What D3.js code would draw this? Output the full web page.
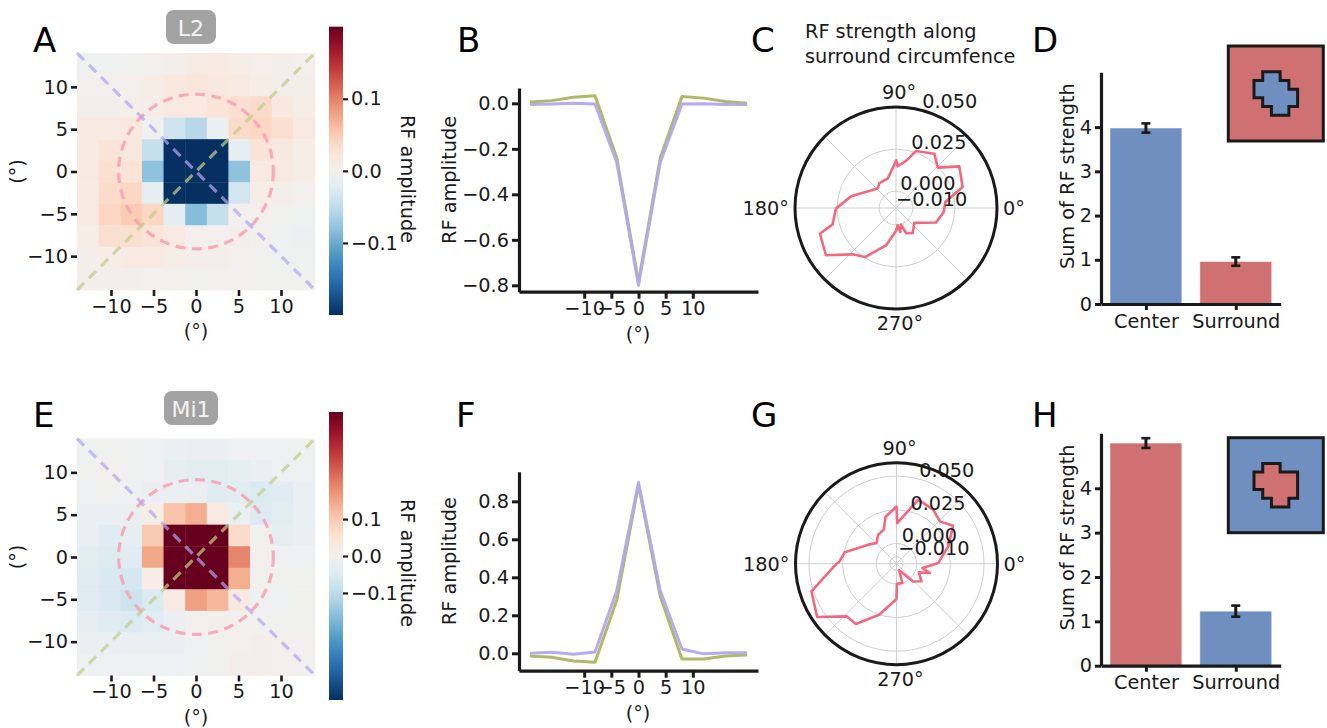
<!DOCTYPE html>
<html><head><meta charset="utf-8">
<script src="https://cdn.jsdelivr.net/npm/d3@7"></script>
<style>
body{margin:0;background:#fff}
svg{display:block}
text{font-family:"DejaVu Sans",sans-serif;fill:#1a1a1a}
</style>
</head><body>
<svg id="chart" width="1327" height="728"></svg>
<script>
// ---------------- DATA ----------------
const heatTicks = [-10, -5, 0, 5, 10];
const l2Heat = [
 [-0.005,-0.005,-0.003,0.003,0.005,0.012,0.015,0.01,0.006,0.005,0.004],
 [0.003,0.003,0.004,0.01,0.02,0.022,0.02,0.015,0.01,0.008,0.005],
 [0.005,0.005,0.006,0.01,0.015,0.018,0.025,0.03,0.035,0.02,0.01],
 [0.015,0.015,0.02,-0.005,-0.04,-0.055,-0.01,0.035,0.04,0.03,0.015],
 [0.015,0.025,0.02,-0.045,-0.26,-0.3,-0.26,-0.015,0.025,0.02,0.01],
 [0.015,0.03,0.025,-0.08,-0.3,-0.8,-0.3,-0.08,0.015,0.015,0.01],
 [0.015,0.035,0.04,-0.015,-0.26,-0.3,-0.26,-0.035,0.01,0.005,0.0],
 [0.015,0.04,0.05,0.04,-0.02,-0.085,-0.045,0.0,0.0,-0.003,-0.005],
 [0.01,0.03,0.03,0.025,0.015,0.0,0.0,0.005,-0.002,-0.005,-0.008],
 [0.008,0.01,0.015,0.015,0.01,0.005,0.005,0.0,-0.003,-0.005,-0.005],
 [0.005,0.005,0.005,0.003,0.003,-0.003,0.0,0.0,-0.003,-0.003,-0.003]
];
const mi1Heat = [
 [-0.01,-0.004,-0.01,-0.013,-0.016,-0.016,-0.016,-0.013,-0.013,-0.013,-0.01],
 [-0.006,0.005,-0.01,-0.013,-0.033,-0.04,-0.04,-0.033,-0.026,-0.013,-0.013],
 [-0.013,-0.006,-0.013,-0.02,-0.02,-0.02,-0.045,-0.04,-0.052,-0.045,-0.026],
 [-0.026,-0.026,-0.02,0.02,0.11,0.14,0.03,-0.026,-0.052,-0.04,-0.026],
 [-0.026,-0.045,-0.033,0.1,0.45,0.5,0.45,0.07,-0.006,-0.033,-0.02],
 [-0.04,-0.052,-0.045,0.15,0.5,0.9,0.5,0.19,0.0,-0.013,-0.013],
 [-0.045,-0.058,-0.065,0.02,0.45,0.5,0.45,0.14,-0.006,-0.006,-0.006],
 [-0.045,-0.058,-0.078,-0.052,0.03,0.16,0.13,0.035,-0.013,-0.013,-0.006],
 [-0.033,-0.045,-0.052,-0.04,-0.02,0.0,0.01,0.005,-0.006,-0.006,-0.006],
 [-0.02,-0.026,-0.026,-0.026,-0.02,-0.013,-0.006,0.005,0.01,0.005,0.0],
 [-0.013,-0.013,-0.013,-0.013,-0.013,-0.01,-0.006,0.01,0.01,0.005,-0.006]
];
const l2ColorTicks = [-0.1, 0.0, 0.1];
const mi1ColorTicks = [-0.1, 0.0, 0.1];

const profileX = [-20,-16,-12,-8,-4,0,4,8,12,16,20];
const profileTicksX = [-10,-5,0,5,10];
const l2ProfileGreen  = [0.006,0.012,0.027,0.033,-0.24,-0.785,-0.24,0.03,0.023,0.008,0.0];
const l2ProfilePurple = [-0.005,-0.003,0.0,-0.003,-0.26,-0.80,-0.26,-0.003,-0.002,-0.005,-0.005];
const l2ProfileTicksY = [-0.8,-0.6,-0.4,-0.2,0.0];
const mi1ProfileGreen  = [-0.014,-0.021,-0.04,-0.047,0.28,0.886,0.30,-0.03,-0.03,-0.014,-0.009];
const mi1ProfilePurple = [0.0,0.005,-0.005,0.007,0.33,0.90,0.33,0.023,-0.003,0.003,0.003];
const mi1ProfileTicksY = [0.0,0.2,0.4,0.6,0.8];

const polarRTicks = [-0.010, 0.000, 0.025, 0.050];
const polarAngleTicks = [0, 90, 180, 270];
const l2PolarAngles = [7,17.5,33.3,44,54.8,70.7,77.4,87.7,89.6,105.9,123.7,133.5,165.5,180.6,194.5,198.7,214,226.9,237.7,255,270,275.5,280,287,292,304,321,340,355];
const l2PolarValues = [0.0195,0.0315,0.035,0.0245,0.0295,0.0259,0.019,0.0148,0.0183,0.0081,0.0078,0.0059,0.0176,0.0257,0.0289,0.0377,0.0402,0.0277,0.0245,0.013,0.0037,0.0003,0.0045,0.0003,0.0062,0.0078,0.004,0.0153,0.0184];
const mi1PolarAngles = [0.9,18.5,33.8,44.3,55.8,71.3,89,90,103.3,110.4,122.3,134,146,167.6,178.7,180,198,213.9,226.5,236,251.2,270,271,287,292,313,324.8,338.8,344.4,350.5];
const mi1PolarValues = [0.016,0.0255,0.0356,0.030,0.0335,0.0352,0.0152,0.0275,0.0206,0.012,0.0105,0.0064,0.0103,0.0243,0.0278,0.0295,0.0514,0.056,0.0389,0.039,0.025,0.0112,0.0,0.0,-0.0097,0.003,0.0077,0.0028,0.0107,0.0045];

const barCategories = ["Center","Surround"];
const barTicks = [0,1,2,3,4];
const l2BarMeans = [3.98, 0.96];
const l2BarErr   = [0.105, 0.095];
const mi1BarMeans = [5.02, 1.23];
const mi1BarErr   = [0.11, 0.125];

// inset outlines (grid units)
const l2InsetShape  = [[1,0],[3,0],[3,1],[4,1],[4,2],[5,2],[5,4],[4,4],[4,5],[2,5],[2,4],[1,4],[1,3],[0,3],[0,1],[1,1]];
const mi1InsetShape = [[1,0],[3,0],[3,1],[5,1],[5,4],[4,4],[4,5],[2,5],[2,4],[1,4],[1,3],[0,3],[0,1],[1,1]];

// ---------------- STYLE ----------------
const FS = 19.3;
const INK = "#1a1a1a";
const GREEN = "#b0b968";
const PURPLE = "#b3a6ef";
const BLUE = "#6f8fc1";
const RED = "#cf7073";
const svg = d3.select("#chart");
const fmtMinus = d => (d < 0 ? "\u2212" : "") + Math.abs(d);

function styleAxis(g, width) {
  g.selectAll(".tick line").attr("stroke", INK).attr("stroke-width", width || 2.6);
  g.selectAll(".tick text").attr("font-size", FS).attr("fill", INK).style("font-family", '"DejaVu Sans",sans-serif');
}

// ---------------- HEATMAPS ----------------
function heatmap(data, top, vmax, cbTicks, cbTop, cbBottom, cbLabelY, badge) {
  const g = svg.append("g");
  const ext = 14, n = data.length;
  const x = d3.scaleLinear().domain([-ext, ext]).range([77, 315]);
  const y = d3.scaleLinear().domain([-ext, ext]).range([top + 237, top]);
  const edges = d3.range(n + 1).map(i => -ext + i * 2 * ext / n);
  const col = v => d3.interpolateRdBu(1 - Math.max(0, Math.min(1, (v + vmax) / (2 * vmax))));
  const cells = [];
  data.forEach((row, r) => row.forEach((v, c) => cells.push({r, c, v})));
  g.selectAll("rect.cell").data(cells).join("rect")
    .attr("x", d => x(edges[d.c]))
    .attr("y", d => y(edges[n - d.r]))
    .attr("width", d => x(edges[d.c + 1]) - x(edges[d.c]) + 0.4)
    .attr("height", d => y(edges[n - d.r - 1]) - y(edges[n - d.r]) + 0.4)
    .attr("fill", d => col(d.v));
  // overlays
  g.append("circle").attr("cx", x(0)).attr("cy", y(0)).attr("r", x(9.1) - x(0))
    .attr("fill", "none").attr("stroke", "#f7a3b5").attr("stroke-width", 3.2)
    .attr("stroke-dasharray", "10,6.5").attr("opacity", 0.9);
  g.append("line").attr("x1", x(-ext)).attr("y1", y(ext)).attr("x2", x(ext)).attr("y2", y(-ext))
    .attr("stroke", PURPLE).attr("stroke-width", 3.2).attr("stroke-dasharray", "10,7").attr("opacity", 0.72);
  g.append("line").attr("x1", x(-ext)).attr("y1", y(-ext)).attr("x2", x(ext)).attr("y2", y(ext))
    .attr("stroke", "#c3cd88").attr("stroke-width", 3.2).attr("stroke-dasharray", "10,7").attr("opacity", 0.72);
  // axes
  const ax = g.append("g").attr("transform", `translate(0,${top + 237})`)
    .call(d3.axisBottom(x).tickValues(heatTicks).tickFormat(fmtMinus).tickSize(6).tickPadding(3));
  ax.select(".domain").remove(); styleAxis(ax);
  const ay = g.append("g").attr("transform", "translate(77,0)")
    .call(d3.axisLeft(y).tickValues(heatTicks).tickFormat(fmtMinus).tickSize(6).tickPadding(3));
  ay.select(".domain").remove(); styleAxis(ay);
  g.append("text").attr("x", x(0)).attr("y", top + 285).attr("text-anchor", "middle").attr("font-size", FS).text("(°)");
  g.append("text").attr("transform", `translate(24,${y(0)}) rotate(-90)`).attr("text-anchor", "middle").attr("font-size", FS).text("(°)");
  // colorbar
  const gid = "grad" + Math.round(top);
  const grad = svg.append("defs").append("linearGradient").attr("id", gid)
    .attr("x1", 0).attr("y1", 1).attr("x2", 0).attr("y2", 0);
  d3.range(0, 1.0001, 0.05).forEach(t => grad.append("stop").attr("offset", t).attr("stop-color", d3.interpolateRdBu(1 - t)));
  g.append("rect").attr("x", 329).attr("y", cbTop).attr("width", 14).attr("height", cbBottom - cbTop).attr("fill", `url(#${gid})`);
  const cy = d3.scaleLinear().domain([-vmax, vmax]).range([cbBottom, cbTop]);
  const ac = g.append("g").attr("transform", "translate(343,0)")
    .call(d3.axisRight(cy).tickValues(cbTicks).tickFormat(d => d3.format(".1f")(d)).tickSize(5).tickPadding(3));
  ac.select(".domain").remove(); styleAxis(ac, 2.2);
  g.append("text").attr("transform", `translate(401,${cbLabelY}) rotate(90)`).attr("text-anchor", "middle")
    .attr("font-size", FS).text("RF amplitude");
  // badge
  g.append("rect").attr("x", badge.x).attr("y", badge.y).attr("width", badge.w).attr("height", 34).attr("rx", 8).attr("fill", "#a3a3a3");
  g.append("text").attr("x", badge.x + badge.w / 2).attr("y", badge.y + 26).attr("text-anchor", "middle")
    .attr("font-size", 22).style("fill", "#f4f4f4").text(badge.label);
}
heatmap(l2Heat, 53, 0.2, l2ColorTicks, 26.7, 315, 179, {x: 166, y: 10, w: 50, label: "L2"});
heatmap(mi1Heat, 438.5, 0.39, mi1ColorTicks, 412, 700, 563, {x: 164, y: 391, w: 54, label: "Mi1"});

// ---------------- PROFILES ----------------
function profile(top, bottom, yDom, yTicks, green, purple) {
  const g = svg.append("g");
  const x = d3.scaleLinear().domain([-22, 22]).range([519, 758]);
  const y = d3.scaleLinear().domain(yDom).range([bottom, top]);
  const ax = g.append("g").attr("transform", `translate(0,${bottom})`)
    .call(d3.axisBottom(x).tickValues(profileTicksX).tickFormat(fmtMinus).tickSize(7).tickSizeOuter(0).tickPadding(3));
  const ay = g.append("g").attr("transform", "translate(519,0)")
    .call(d3.axisLeft(y).tickValues(yTicks).tickFormat(d => d3.format(".1f")(d)).tickSize(7).tickSizeOuter(0).tickPadding(3));
  [ax, ay].forEach(a => { a.select(".domain").attr("stroke", INK).attr("stroke-width", 3.2); styleAxis(a, 3); });
  const line = d3.line().x((d, i) => x(profileX[i])).y(d => y(d));
  g.append("path").attr("d", line(green)).attr("fill", "none").attr("stroke", GREEN).attr("stroke-width", 3).attr("stroke-linejoin", "round");
  g.append("path").attr("d", line(purple)).attr("fill", "none").attr("stroke", PURPLE).attr("stroke-width", 3).attr("stroke-linejoin", "round").attr("opacity", 0.95);
  g.append("text").attr("x", 638).attr("y", bottom + 49).attr("text-anchor", "middle").attr("font-size", FS).text("(°)");
  g.append("text").attr("transform", `translate(456,${(top + bottom) / 2 - 10}) rotate(-90)`).attr("text-anchor", "middle").attr("font-size", FS).text("RF amplitude");
}
profile(88, 291.7, [-0.828, 0.0675], l2ProfileTicksY, l2ProfileGreen, l2ProfilePurple);
profile(471.7, 670.7, [-0.0916, 0.956], mi1ProfileTicksY, mi1ProfileGreen, mi1ProfilePurple);

// ---------------- POLAR ----------------
function polar(cx, cy, R, rDom, angles, values) {
  const g = svg.append("g").attr("transform", `translate(${cx},${cy})`);
  const r = d3.scaleLinear().domain(rDom).range([0, R]);
  g.selectAll("circle.grid").data(polarRTicks.filter(t => r(t) > 0.5 && r(t) < R - 0.5)).join("circle")
    .attr("r", d => r(d)).attr("fill", "none").attr("stroke", "#cfcfcf").attr("stroke-width", 1);
  g.selectAll("line.spoke").data(d3.range(0, 360, 45)).join("line")
    .attr("x1", 0).attr("y1", 0)
    .attr("x2", d => R * Math.cos(d * Math.PI / 180)).attr("y2", d => -R * Math.sin(d * Math.PI / 180))
    .attr("stroke", "#cfcfcf").attr("stroke-width", 1);
  const pts = angles.map((a, i) => ({a, v: values[i]}));
  const lr = d3.lineRadial().angle(d => (90 - d.a) * Math.PI / 180).radius(d => r(d.v)).curve(d3.curveLinearClosed);
  g.append("path").attr("d", lr(pts)).attr("fill", "none").attr("stroke", "#f2687f").attr("stroke-width", 2.6).attr("stroke-linejoin", "round");
  g.append("circle").attr("r", R).attr("fill", "none").attr("stroke", INK).attr("stroke-width", 3);
  const la = 75 * Math.PI / 180;
  g.selectAll("text.rl").data(polarRTicks).join("text")
    .attr("x", d => r(d) * Math.cos(la)).attr("y", d => -r(d) * Math.sin(la) - 2)
    .attr("font-size", FS).text(d => d3.format(".3f")(d));
  const pad = 6;
  polarAngleTicks.forEach(a => {
    const t = g.append("text").attr("font-size", FS).text(a + "°");
    if (a === 0) t.attr("x", R + pad).attr("y", 7).attr("text-anchor", "start");
    if (a === 180) t.attr("x", -R - pad).attr("y", 7).attr("text-anchor", "end");
    if (a === 90) t.attr("x", 3).attr("y", -R - pad - 2).attr("text-anchor", "middle");
    if (a === 270) t.attr("x", 4).attr("y", R + pad + 15).attr("text-anchor", "middle");
  });
}
polar(896, 208, 101, [-0.010, 0.050], l2PolarAngles, l2PolarValues);
polar(896.5, 563.7, 101, [-0.015, 0.060], mi1PolarAngles, mi1PolarValues);
svg.append("text").attr("x", 805).attr("y", 38).attr("font-size", FS).text("RF strength along");
svg.append("text").attr("x", 805).attr("y", 63).attr("font-size", FS).text("surround circumfence");

// ---------------- BARS ----------------
function bars(top, bottom, means, errs, colors, insetY, insetFill, shapeFill, shape) {
  const g = svg.append("g");
  const x = d3.scaleLinear().domain([-0.5, 1.5]).range([1101, 1280.7]);
  const y = d3.scaleLinear().domain([0, 5.24]).range([bottom, top]);
  g.selectAll("rect.bar").data(means).join("rect")
    .attr("x", (d, i) => x(i - 0.4)).attr("width", x(0.8) - x(0))
    .attr("y", d => y(d)).attr("height", d => bottom - y(d))
    .attr("fill", (d, i) => colors[i]).attr("stroke", "#ffffff").attr("stroke-opacity", 0.5).attr("stroke-width", 1);
  means.forEach((m, i) => {
    const xc = x(i);
    g.append("line").attr("x1", xc).attr("x2", xc).attr("y1", y(m - errs[i])).attr("y2", y(m + errs[i])).attr("stroke", INK).attr("stroke-width", 3);
    [m - errs[i], m + errs[i]].forEach(v => g.append("line").attr("x1", xc - 4.5).attr("x2", xc + 4.5).attr("y1", y(v)).attr("y2", y(v)).attr("stroke", INK).attr("stroke-width", 2.6));
  });
  const ax = g.append("g").attr("transform", `translate(0,${bottom})`)
    .call(d3.axisBottom(x).tickValues([0, 1]).tickFormat(i => barCategories[i]).tickSize(6).tickSizeOuter(0).tickPadding(4));
  const ay = g.append("g").attr("transform", "translate(1101,0)")
    .call(d3.axisLeft(y).tickValues(barTicks).tickFormat(d3.format("d")).tickSize(6).tickSizeOuter(0).tickPadding(3));
  [ax, ay].forEach(a => { a.select(".domain").attr("stroke", INK).attr("stroke-width", 3.2); styleAxis(a, 3); });
  g.append("text").attr("transform", `translate(1074,${(top + bottom) / 2 - 12}) rotate(-90)`).attr("text-anchor", "middle").attr("font-size", FS).text("Sum of RF strength");
  // inset
  const S = 95, u = 8.72, off = 25.7, ix = 1228.3;
  g.append("rect").attr("x", ix).attr("y", insetY).attr("width", S).attr("height", S).attr("fill", insetFill).attr("stroke", INK).attr("stroke-width", 3);
  const sx = d3.scaleLinear().domain([0, 1]).range([ix + off, ix + off + u]);
  const sy = d3.scaleLinear().domain([0, 1]).range([insetY + off, insetY + off + u]);
  g.append("path").attr("d", "M" + shape.map(p => sx(p[0]) + "," + sy(p[1])).join("L") + "Z")
    .attr("fill", shapeFill).attr("stroke", INK).attr("stroke-width", 3).attr("stroke-linejoin", "miter");
}
bars(72.3, 304, l2BarMeans, l2BarErr, [BLUE, RED], 46, RED, BLUE, l2InsetShape);
bars(433.3, 665.7, mi1BarMeans, mi1BarErr, [RED, BLUE], 437.7, BLUE, RED, mi1InsetShape);

// ---------------- PANEL LETTERS ----------------
const letters = [["A",33,52],["B",457,52],["C",751,52],["D",1032,52],["E",33,427],["F",456,427],["G",751,427],["H",1032,427]];
svg.selectAll("text.letter").data(letters).join("text").attr("class", "letter")
  .attr("x", d => d[1]).attr("y", d => d[2]).attr("font-size", 34).style("fill", "#000").text(d => d[0]);
</script>
</body></html>
